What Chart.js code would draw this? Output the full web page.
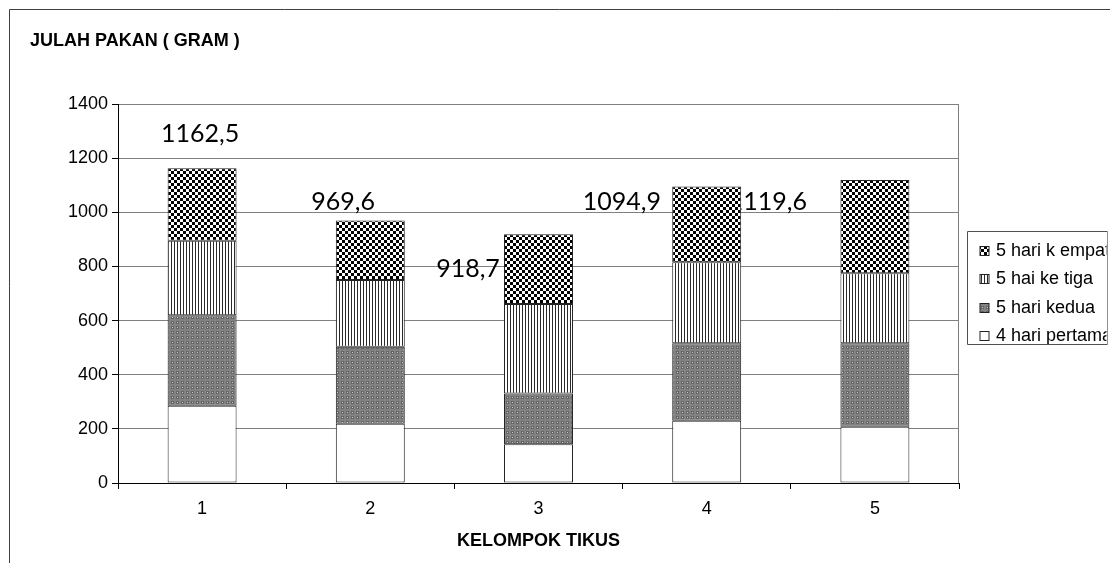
<!DOCTYPE html>
<html>
<head>
<meta charset="utf-8">
<script src="https://cdn.jsdelivr.net/npm/chart.js@4.4.1/dist/chart.umd.min.js"></script>
<style>
  html, body { margin: 0; padding: 0; background: #fff; }
  #wrap { width: 1110px; height: 563px; }
</style>
</head>
<body>
<div id="wrap"><canvas id="c" width="1110" height="563"></canvas></div>
<script>
// Feed eaten per rat group (grams), stacked by feeding period
const categories = ['1', '2', '3', '4', '5'];
const seriesNames = ['4 hari pertama', '5 hari kedua', '5 hai ke tiga', '5 hari k empat'];
const hari4Pertama = [285, 219, 143, 230, 208];
const hari5Kedua   = [335, 284, 188, 286, 308];
const hari5KeTiga  = [275, 247, 330, 299, 259];
const hari5KeEmpat = [267.5, 219.6, 257.7, 279.9, 344.6];
const yTickValues  = [0, 200, 400, 600, 800, 1000, 1200, 1400];

const FONT = "'Liberation Sans', Arial, sans-serif";
const canvas = document.getElementById('c');
const ctx0 = canvas.getContext('2d');

function makePattern(w, h, draw) {
  const c = document.createElement('canvas');
  c.width = w; c.height = h;
  draw(c.getContext('2d'));
  return ctx0.createPattern(c, 'repeat');
}
const fillWhite = '#ffffff';
const fillDots = makePattern(5, 5, g => {
  g.fillStyle = '#828282'; g.fillRect(0, 0, 5, 5);
  g.fillStyle = '#666666'; g.fillRect(1, 1, 3, 3);
  g.fillStyle = '#c8c8c8'; g.fillRect(2, 2, 1, 1);
});
const fillStripes = makePattern(3, 1, g => {
  g.fillStyle = '#ffffff'; g.fillRect(0, 0, 3, 1);
  g.fillStyle = '#2a2a2a'; g.fillRect(0, 0, 1, 1);
});
const fillChecker = makePattern(6, 6, g => {
  g.fillStyle = '#ffffff'; g.fillRect(0, 0, 6, 6);
  g.fillStyle = '#000000'; g.fillRect(0, 0, 3, 3); g.fillRect(3, 3, 3, 3);
});
const fills = [fillWhite, fillDots, fillStripes, fillChecker];
const seriesData = [hari4Pertama, hari5Kedua, hari5KeTiga, hari5KeEmpat];

// Stack totals, written with a decimal comma
const stackTotals = categories.map((_, i) => seriesData.reduce((s, d) => s + d[i], 0));
const totalText = v => v.toFixed(1).replace('.', ',');

// Where each total label sits: shift in category widths from the bar centre, height in grams
const labelPlacement = [
  { dx: -0.012, v: 1293 },
  { dx: -0.162, v: 1040 },
  { dx: -0.419, v: 796 },
  { dx: -0.504, v: 1040 },
  { dx: -0.636, v: 1040 }
];

const framePlugin = {
  id: 'frame',
  beforeDraw(chart) {
    const c = chart.ctx;
    c.save();
    c.fillStyle = '#fff';
    c.fillRect(0, 0, chart.width, chart.height);
    c.strokeStyle = '#404040';
    c.lineWidth = 1;
    c.beginPath();
    c.moveTo(9.5, chart.height);
    c.lineTo(9.5, 9.5);
    c.lineTo(chart.width, 9.5);
    c.stroke();
    // chart title
    c.fillStyle = '#000';
    c.font = 'bold 18px ' + FONT;
    c.textAlign = 'left';
    c.textBaseline = 'middle';
    c.fillText('JULAH PAKAN ( GRAM )', 30, 41);
    c.restore();
  },
  beforeDatasetsDraw(chart) {
    const c = chart.ctx;
    const a = chart.chartArea;
    const xs = chart.scales.x, ys = chart.scales.y;
    c.save();
    // plot area right edge
    c.strokeStyle = '#808080';
    c.lineWidth = 1;
    c.beginPath();
    c.moveTo(Math.round(a.right) - 0.5, a.top);
    c.lineTo(Math.round(a.right) - 0.5, a.bottom);
    c.stroke();
    // stack total labels (drawn under the bars)
    const catW = xs.getPixelForValue(1) - xs.getPixelForValue(0);
    c.fillStyle = '#000';
    c.font = "25px Lato, 'Open Sans', sans-serif";
    c.textAlign = 'center';
    c.textBaseline = 'alphabetic';
    stackTotals.forEach((t, i) => {
      const p = labelPlacement[i];
      const x = xs.getPixelForValue(i) + p.dx * catW;
      const y = ys.getPixelForValue(p.v) + 9;
      c.fillText(totalText(t), x, y);
    });
    c.restore();
  },
  afterDraw(chart) {
    // legend box, series listed top-down in reverse order
    const c = chart.ctx;
    const a = chart.chartArea;
    const bx = Math.round(a.right) + 8.5, by = 231.5, bw = 140, bh = 113;
    c.save();
    c.fillStyle = '#fff';
    c.fillRect(bx, by, bw, bh);
    c.beginPath();
    c.rect(bx, by, bw - 1, bh + 6);
    c.clip();
    c.font = '18px ' + FONT;
    c.textAlign = 'left';
    c.textBaseline = 'middle';
    for (let k = 0; k < seriesNames.length; k++) {
      const s = seriesNames.length - 1 - k;
      const yc = 251 + k * 28.4;
      const sx = bx + 12.5, sy = Math.round(yc - 5) + 0.5;
      c.fillStyle = fills[s];
      c.fillRect(sx, sy, 9, 9);
      c.strokeStyle = '#222';
      c.lineWidth = 1;
      c.strokeRect(sx, sy, 9, 9);
      c.fillStyle = '#000';
      c.fillText(seriesNames[s], bx + 28.5, yc);
    }
    c.restore();
    c.save();
    c.lineWidth = 1;
    c.strokeStyle = '#505050';
    c.beginPath();
    c.moveTo(bx + bw, by); c.lineTo(bx, by); c.lineTo(bx, by + bh); c.lineTo(bx + bw, by + bh);
    c.stroke();
    c.strokeStyle = '#909090';
    c.beginPath();
    c.moveTo(bx + bw, by); c.lineTo(bx + bw, by + bh);
    c.stroke();
    c.restore();
  }
};

new Chart(canvas, {
  type: 'bar',
  data: {
    labels: categories,
    datasets: seriesData.map((d, i) => ({
      label: seriesNames[i],
      data: d,
      backgroundColor: fills[i],
      borderColor: '#222',
      borderWidth: 1,
      borderSkipped: false,
      categoryPercentage: 1.0,
      barPercentage: 0.41
    }))
  },
  options: {
    responsive: false,
    animation: false,
    devicePixelRatio: 1,
    layout: { padding: { left: 0, top: 104, right: 151, bottom: 0 } },
    plugins: { legend: { display: false }, tooltip: { enabled: false }, title: { display: false } },
    scales: {
      x: {
        stacked: true,
        grid: { offset: true, drawOnChartArea: false, drawTicks: true, tickLength: 6, color: '#000' },
        border: { display: true, color: '#000', width: 1 },
        ticks: { color: '#000', font: { family: FONT, size: 18 }, padding: 9 },
        title: { display: true, text: 'KELOMPOK TIKUS', color: '#000',
                 font: { family: FONT, size: 18, weight: 'bold' }, padding: { top: 0, bottom: 11 } },
        afterFit(s) { s.height = 80; }
      },
      y: {
        stacked: true,
        min: 0, max: 1400,
        afterBuildTicks(s) { s.ticks = yTickValues.map(v => ({ value: v })); },
        grid: { color: '#808080', tickColor: '#000', tickLength: 6, lineWidth: 1 },
        border: { display: true, color: '#000', width: 1 },
        ticks: { color: '#000', font: { family: FONT, size: 18 }, padding: 4,
                 callback: v => String(v) },
        afterFit(s) { s.width = 118; }
      }
    }
  },
  plugins: [framePlugin]
});
</script>
</body>
</html>
